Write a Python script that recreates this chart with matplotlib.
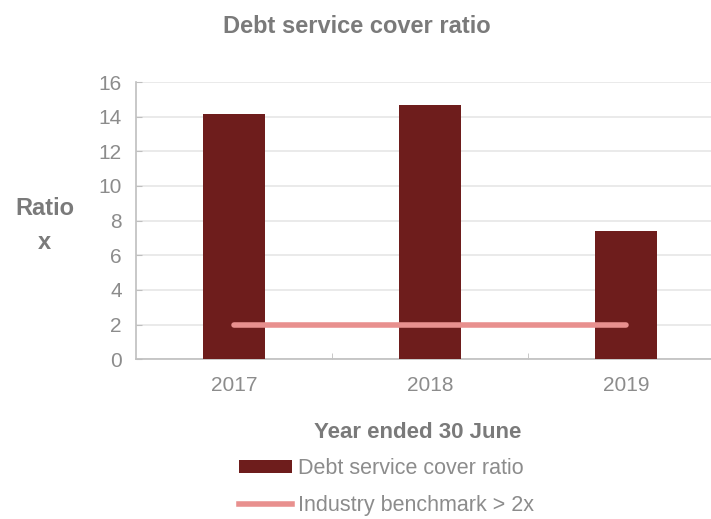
import matplotlib
matplotlib.use("Agg")
import matplotlib.pyplot as plt
from matplotlib.lines import Line2D
from matplotlib.patches import Patch

plt.rcParams["font.family"] = ["Liberation Sans", "DejaVu Sans"]

years = ["2017", "2018", "2019"]
dscr = [14.15, 14.7, 7.4]
benchmark = [2, 2, 2]

bar_color = "#6E1D1C"
line_color = "#E8908E"
text_color = "#8C8C8C"
title_color = "#7A7A7A"

fig = plt.figure(figsize=(7.11, 5.19), dpi=100)
ax = fig.add_axes([0.191, 0.308, 0.828, 0.534])

x = list(range(len(years)))
ax.bar(x, dscr, width=0.315, color=bar_color, zorder=3)
ax.plot(x, benchmark, color=line_color, linewidth=4, solid_capstyle="round", zorder=4)

ax.set_xlim(-0.5, 2.5)
ax.set_ylim(0, 16)
ax.set_yticks(range(0, 17, 2))
ax.set_xticks(x)
ax.set_xticklabels(years)
ax.set_xticks([0.5, 1.5], minor=True)
ax.tick_params(axis="x", which="major", length=0, pad=12, labelsize=15, labelcolor=text_color)
ax.tick_params(axis="x", which="minor", length=4, direction="in", color="#BFBFBF")
ax.tick_params(axis="y", length=4, direction="in", color="#BFBFBF", labelsize=15, labelcolor=text_color, pad=10)

ax.grid(axis="y", color="#E6E6E6", linewidth=1.2, zorder=0)
for s in ["top", "right"]:
    ax.spines[s].set_visible(False)
for s in ["left", "bottom"]:
    ax.spines[s].set_color("#BFBFBF")
    ax.spines[s].set_linewidth(1.2)

fig.text(0.502, 0.948, "Debt service cover ratio", ha="center", va="center",
         fontsize=17, fontweight="bold", color=title_color)
fig.text(0.063, 0.566, "Ratio\nx", ha="center", va="center", fontsize=17,
         fontweight="bold", color=title_color, linespacing=1.6)
fig.text(0.587, 0.166, "Year ended 30 June", ha="center", va="center",
         fontsize=16, fontweight="bold", color=title_color)

handles = [Patch(facecolor=bar_color, edgecolor="none"),
           Line2D([0], [0], color=line_color, linewidth=4)]
labels = ["Debt service cover ratio", "Industry benchmark > 2x"]
leg = fig.legend(handles, labels, loc="center left", bbox_to_anchor=(0.336, 0.062),
                 frameon=False, fontsize=15.5, handlelength=2.45, handleheight=0.55,
                 handletextpad=0.3, labelspacing=0.72, borderpad=0, borderaxespad=0)
for t in leg.get_texts():
    t.set_color(text_color)

fig.savefig("out.png", dpi=100)
